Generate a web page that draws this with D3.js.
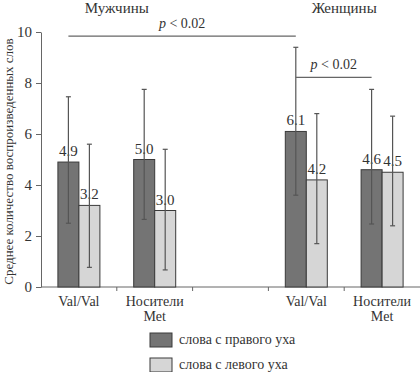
<!DOCTYPE html>
<html>
<head>
<meta charset="utf-8">
<script src="https://cdn.jsdelivr.net/npm/d3@7"></script>
<style>
  body { margin: 0; background: #fff; }
</style>
</head>
<body>
<script>
var width = 420;
var height = 372;
var serif = "Liberation Serif";

// data
var categories = ["m-val", "m-met", "gap", "f-val", "f-met"];
var catLabels = [["Val/Val"], ["Носители", "Met"], [], ["Val/Val"], ["Носители", "Met"]];
var rightEar = [4.9, 5.0, null, 6.1, 4.6];
var leftEar = [3.2, 3.0, null, 4.2, 4.5];
var rightLow = [2.5, 2.65, null, 3.6, 2.47];
var rightHigh = [7.46, 7.75, null, 9.4, 7.75];
var leftLow = [0.77, 0.67, null, 1.7, 2.4];
var leftHigh = [5.6, 5.4, null, 6.8, 6.7];
var yTicks = [0, 2, 4, 6, 8, 10];
var groupTitles = [{ text: "Мужчины", at: "m-met" }, { text: "Женщины", at: "f-met" }];
var brackets = [{ from: "m-val", to: "f-val", y: 9.84 }, { from: "f-val", to: "f-met", y: 8.22 }];
var legendLabels = ["слова с правого уха", "слова с левого уха"];

var colorDark = "#747474";
var colorLight = "#d6d6d6";
var axisColor = "#666";
var textColor = "#333";

var svg = d3.select("body").append("svg")
    .attr("width", width)
    .attr("height", height)
    .attr("font-family", serif);

var x = d3.scaleBand()
    .domain(categories)
    .range([41, 420]);

var bw = x.bandwidth();
var barW = 21;
var xSub = d3.scaleBand()
    .domain(["right", "left"])
    .range([bw / 2 - barW, bw / 2 + barW]);

var y = d3.scaleLinear()
    .domain([0, 10])
    .range([287, 32]);

// y axis
var yAxis = svg.append("g")
    .attr("transform", "translate(41,0)")
    .call(d3.axisLeft(y).tickValues(yTicks).tickSize(5).tickSizeOuter(0));
yAxis.attr("font-family", serif).attr("font-size", 15);
yAxis.select(".domain").attr("stroke", axisColor);
yAxis.selectAll(".tick line").attr("stroke", axisColor);
yAxis.selectAll(".tick text")
    .attr("x", -9)
    .attr("font-family", serif)
    .attr("font-size", 15)
    .attr("fill", textColor);

// x axis line + ticks at band boundaries
svg.append("line")
    .attr("x1", 41).attr("x2", 420)
    .attr("y1", y(0)).attr("y2", y(0))
    .attr("stroke", axisColor);
svg.selectAll(".xtick")
    .data(categories.slice(1))
    .enter().append("line")
    .attr("x1", function(d) { return x(d); })
    .attr("x2", function(d) { return x(d); })
    .attr("y1", y(0)).attr("y2", y(0) + 4)
    .attr("stroke", axisColor);

// category labels
categories.forEach(function(c, i) {
    var t = svg.append("text")
        .attr("x", x(c) + bw / 2)
        .attr("y", 306)
        .attr("text-anchor", "middle")
        .attr("font-family", serif)
        .attr("font-size", 14)
        .attr("fill", textColor);
    catLabels[i].forEach(function(line, j) {
        t.append("tspan")
            .attr("x", x(c) + bw / 2)
            .attr("dy", j === 0 ? 0 : 15)
            .text(line);
    });
});

// bars
function drawSeries(key, values, lows, highs, fill) {
    categories.forEach(function(c, i) {
        if (values[i] == null) return;
        var bx = x(c) + xSub(key);
        var cx = bx + barW / 2;
        svg.append("rect")
            .attr("x", bx)
            .attr("y", y(values[i]))
            .attr("width", barW)
            .attr("height", y(0) - y(values[i]))
            .attr("fill", fill)
            .attr("stroke", "#3a3a3a")
            .attr("stroke-width", 1);
        svg.append("text")
            .attr("x", cx)
            .attr("y", y(values[i]) - 6)
            .attr("text-anchor", "middle")
            .attr("font-family", serif)
            .attr("font-size", 15)
            .attr("fill", textColor)
            .text(d3.format(".1f")(values[i]));
        // error bar
        svg.append("line")
            .attr("x1", cx).attr("x2", cx)
            .attr("y1", y(lows[i])).attr("y2", y(highs[i]))
            .attr("stroke", "#555").attr("stroke-width", 1.2);
        [lows[i], highs[i]].forEach(function(v) {
            svg.append("line")
                .attr("x1", cx - 2.5).attr("x2", cx + 2.5)
                .attr("y1", y(v)).attr("y2", y(v))
                .attr("stroke", "#555").attr("stroke-width", 1.2);
        });
    });
}
drawSeries("right", rightEar, rightLow, rightHigh, colorDark);
drawSeries("left", leftEar, leftLow, leftHigh, colorLight);

// significance brackets
brackets.forEach(function(b) {
    var x1 = x(b.from) + xSub("right") + barW / 2;
    var x2 = x(b.to) + xSub("right") + barW / 2;
    svg.append("line")
        .attr("x1", x1).attr("x2", x2)
        .attr("y1", y(b.y)).attr("y2", y(b.y))
        .attr("stroke", "#666").attr("stroke-width", 1.2);
    var t = svg.append("text")
        .attr("x", (x1 + x2) / 2)
        .attr("y", y(b.y) - 8)
        .attr("text-anchor", "middle")
        .attr("font-family", serif)
        .attr("font-size", 14)
        .attr("fill", textColor);
    t.append("tspan").attr("font-style", "italic").text("p");
    t.append("tspan").text(" < 0.02");
});

// group titles
groupTitles.forEach(function(g) {
    svg.append("text")
        .attr("x", x(g.at))
        .attr("y", 13)
        .attr("text-anchor", "middle")
        .attr("font-family", serif)
        .attr("font-size", 15)
        .attr("fill", textColor)
        .text(g.text);
});

// y axis title
svg.append("text")
    .attr("transform", "translate(13," + ((y(0) + y(10)) / 2 + 2) + ") rotate(-90)")
    .attr("text-anchor", "middle")
    .attr("font-family", serif)
    .attr("font-size", 13)
    .attr("fill", textColor)
    .text("Среднее количество воспроизведенных слов");

// legend
var legend = svg.selectAll(".legend")
    .data(legendLabels)
    .enter().append("g")
    .attr("transform", function(d, i) { return "translate(150," + (333 + i * 25) + ")"; });
legend.append("rect")
    .attr("width", 22).attr("height", 14)
    .attr("fill", function(d, i) { return i === 0 ? colorDark : colorLight; })
    .attr("stroke", "#3a3a3a");
legend.append("text")
    .attr("x", 29).attr("y", 11)
    .attr("font-family", serif)
    .attr("font-size", 14)
    .attr("fill", textColor)
    .text(function(d) { return d; });
</script>
</body>
</html>
